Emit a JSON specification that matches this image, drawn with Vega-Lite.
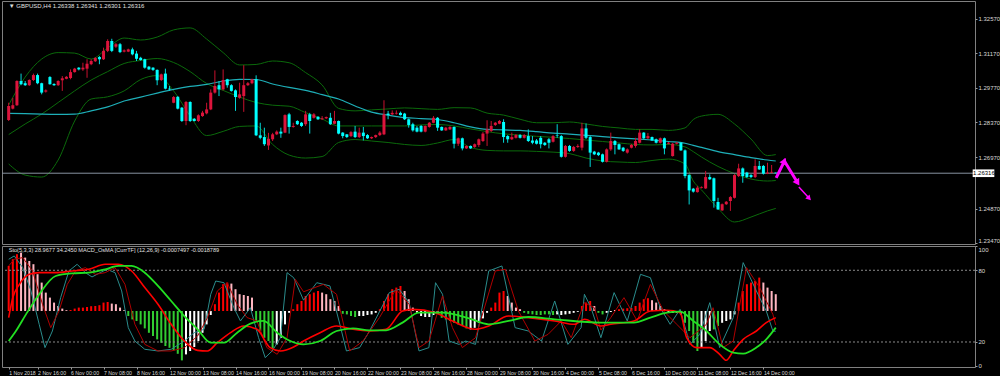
{
"$schema": "https://vega.github.io/schema/vega-lite/v6.json",
"background": "#000000",
"padding": {"left": 1, "top": 0, "right": 0, "bottom": 0},
"spacing": 2,
"bounds": "flush",
"config": {
  "view": {"stroke": "#808080", "strokeWidth": 1, "fill": "#000000"},
  "font": "Liberation Sans",
  "axis": {"grid": false, "domain": false, "labelFont": "Liberation Sans", "labelFontSize": 6, "labelColor": "#D8D8D8", "tickColor": "#9a9a9a", "tickSize": 2, "labelPadding": 1}
},
"datasets": {
"candles": [
{"j":0,"o":1.2847,"h":1.2917,"l":1.2843,"c":1.2904},
{"j":1,"o":1.2893,"h":1.2937,"l":1.2890,"c":1.2907},
{"j":2,"o":1.2907,"h":1.3008,"l":1.2904,"c":1.3005},
{"j":3,"o":1.3005,"h":1.3035,"l":1.2988,"c":1.2992},
{"j":4,"o":1.2996,"h":1.3005,"l":1.2985,"c":1.2988},
{"j":5,"o":1.2988,"h":1.3012,"l":1.2985,"c":1.3009},
{"j":6,"o":1.3009,"h":1.3035,"l":1.3005,"c":1.3029},
{"j":7,"o":1.3029,"h":1.3035,"l":1.2992,"c":1.2996},
{"j":8,"o":1.2996,"h":1.2998,"l":1.2951,"c":1.2958},
{"j":9,"o":1.2962,"h":1.2971,"l":1.2958,"c":1.2967},
{"j":10,"o":1.3021,"h":1.3025,"l":1.2990,"c":1.2992},
{"j":11,"o":1.2993,"h":1.2996,"l":1.2985,"c":1.2988},
{"j":12,"o":1.2988,"h":1.3008,"l":1.2985,"c":1.3005},
{"j":13,"o":1.3008,"h":1.3025,"l":1.2965,"c":1.3016},
{"j":14,"o":1.3014,"h":1.3025,"l":1.3012,"c":1.3022},
{"j":15,"o":1.3017,"h":1.3052,"l":1.3012,"c":1.3041},
{"j":16,"o":1.3041,"h":1.3058,"l":1.3039,"c":1.3055},
{"j":17,"o":1.3059,"h":1.3061,"l":1.3048,"c":1.3052},
{"j":18,"o":1.3052,"h":1.3079,"l":1.3046,"c":1.3059},
{"j":19,"o":1.3055,"h":1.3093,"l":1.3018,"c":1.3075},
{"j":20,"o":1.3073,"h":1.3093,"l":1.3069,"c":1.3086},
{"j":21,"o":1.3085,"h":1.3102,"l":1.3082,"c":1.3098},
{"j":22,"o":1.3102,"h":1.3106,"l":1.3073,"c":1.3093},
{"j":23,"o":1.3093,"h":1.3140,"l":1.3090,"c":1.3127},
{"j":24,"o":1.3127,"h":1.3174,"l":1.3122,"c":1.3167},
{"j":25,"o":1.3167,"h":1.3176,"l":1.3122,"c":1.3127},
{"j":26,"o":1.3144,"h":1.3159,"l":1.3139,"c":1.3154},
{"j":27,"o":1.3154,"h":1.3159,"l":1.3118,"c":1.3122},
{"j":28,"o":1.3124,"h":1.3133,"l":1.3121,"c":1.3129},
{"j":29,"o":1.3124,"h":1.3136,"l":1.3122,"c":1.3133},
{"j":30,"o":1.3133,"h":1.3140,"l":1.3109,"c":1.3113},
{"j":31,"o":1.3116,"h":1.3127,"l":1.3086,"c":1.3095},
{"j":32,"o":1.3099,"h":1.3103,"l":1.3087,"c":1.3090},
{"j":33,"o":1.3093,"h":1.3095,"l":1.3055,"c":1.3059},
{"j":34,"o":1.3063,"h":1.3066,"l":1.3050,"c":1.3052},
{"j":35,"o":1.3059,"h":1.3061,"l":1.3046,"c":1.3050},
{"j":36,"o":1.3050,"h":1.3052,"l":1.2988,"c":1.3008},
{"j":37,"o":1.3009,"h":1.3035,"l":1.3005,"c":1.3032},
{"j":38,"o":1.3035,"h":1.3055,"l":1.2971,"c":1.2974},
{"j":39,"o":1.2974,"h":1.2985,"l":1.2965,"c":1.2971},
{"j":40,"o":1.2917,"h":1.2944,"l":1.2915,"c":1.2940},
{"j":41,"o":1.2941,"h":1.2944,"l":1.2890,"c":1.2893},
{"j":42,"o":1.2897,"h":1.2900,"l":1.2839,"c":1.2843},
{"j":43,"o":1.2843,"h":1.2924,"l":1.2826,"c":1.2920},
{"j":44,"o":1.2920,"h":1.2923,"l":1.2839,"c":1.2843},
{"j":45,"o":1.2852,"h":1.2855,"l":1.2841,"c":1.2843},
{"j":46,"o":1.2843,"h":1.2870,"l":1.2839,"c":1.2866},
{"j":47,"o":1.2863,"h":1.2884,"l":1.2860,"c":1.2877},
{"j":48,"o":1.2874,"h":1.2917,"l":1.2870,"c":1.2890},
{"j":49,"o":1.2890,"h":1.2971,"l":1.2887,"c":1.2958},
{"j":50,"o":1.2958,"h":1.3048,"l":1.2954,"c":1.2985},
{"j":51,"o":1.2988,"h":1.3005,"l":1.2944,"c":1.2971},
{"j":52,"o":1.2971,"h":1.3052,"l":1.2967,"c":1.3009},
{"j":53,"o":1.3012,"h":1.3014,"l":1.2978,"c":1.2988},
{"j":54,"o":1.2988,"h":1.2992,"l":1.2962,"c":1.2965},
{"j":55,"o":1.2967,"h":1.2971,"l":1.2884,"c":1.2940},
{"j":56,"o":1.2937,"h":1.2998,"l":1.2933,"c":1.2951},
{"j":57,"o":1.2944,"h":1.3069,"l":1.2880,"c":1.2988},
{"j":58,"o":1.2988,"h":1.3001,"l":1.2985,"c":1.2996},
{"j":59,"o":1.2996,"h":1.3014,"l":1.2992,"c":1.3012},
{"j":60,"o":1.3012,"h":1.3028,"l":1.2782,"c":1.2785},
{"j":61,"o":1.2785,"h":1.2836,"l":1.2769,"c":1.2775},
{"j":62,"o":1.2778,"h":1.2816,"l":1.2742,"c":1.2749},
{"j":63,"o":1.2744,"h":1.2795,"l":1.2726,"c":1.2771},
{"j":64,"o":1.2769,"h":1.2795,"l":1.2762,"c":1.2789},
{"j":65,"o":1.2789,"h":1.2805,"l":1.2786,"c":1.2800},
{"j":66,"o":1.2800,"h":1.2816,"l":1.2775,"c":1.2792},
{"j":67,"o":1.2796,"h":1.2870,"l":1.2794,"c":1.2867},
{"j":68,"o":1.2870,"h":1.2876,"l":1.2792,"c":1.2819},
{"j":69,"o":1.2819,"h":1.2836,"l":1.2816,"c":1.2823},
{"j":70,"o":1.2843,"h":1.2846,"l":1.2827,"c":1.2830},
{"j":71,"o":1.2836,"h":1.2839,"l":1.2819,"c":1.2823},
{"j":72,"o":1.2830,"h":1.2884,"l":1.2823,"c":1.2870},
{"j":73,"o":1.2870,"h":1.2876,"l":1.2792,"c":1.2843},
{"j":74,"o":1.2856,"h":1.2875,"l":1.2853,"c":1.2870},
{"j":75,"o":1.2860,"h":1.2863,"l":1.2847,"c":1.2850},
{"j":76,"o":1.2850,"h":1.2863,"l":1.2847,"c":1.2854},
{"j":77,"o":1.2854,"h":1.2861,"l":1.2851,"c":1.2859},
{"j":78,"o":1.2856,"h":1.2876,"l":1.2827,"c":1.2830},
{"j":79,"o":1.2832,"h":1.2884,"l":1.2830,"c":1.2843},
{"j":80,"o":1.2843,"h":1.2845,"l":1.2789,"c":1.2792},
{"j":81,"o":1.2796,"h":1.2798,"l":1.2773,"c":1.2782},
{"j":82,"o":1.2789,"h":1.2790,"l":1.2774,"c":1.2778},
{"j":83,"o":1.2782,"h":1.2802,"l":1.2778,"c":1.2798},
{"j":84,"o":1.2800,"h":1.2823,"l":1.2774,"c":1.2778},
{"j":85,"o":1.2778,"h":1.2816,"l":1.2774,"c":1.2796},
{"j":86,"o":1.2796,"h":1.2819,"l":1.2764,"c":1.2782},
{"j":87,"o":1.2786,"h":1.2790,"l":1.2770,"c":1.2773},
{"j":88,"o":1.2773,"h":1.2780,"l":1.2770,"c":1.2778},
{"j":89,"o":1.2778,"h":1.2788,"l":1.2774,"c":1.2786},
{"j":90,"o":1.2786,"h":1.2802,"l":1.2782,"c":1.2796},
{"j":91,"o":1.2789,"h":1.2927,"l":1.2786,"c":1.2870},
{"j":92,"o":1.2873,"h":1.2884,"l":1.2850,"c":1.2867},
{"j":93,"o":1.2870,"h":1.2886,"l":1.2867,"c":1.2876},
{"j":94,"o":1.2873,"h":1.2886,"l":1.2869,"c":1.2876},
{"j":95,"o":1.2876,"h":1.2881,"l":1.2865,"c":1.2867},
{"j":96,"o":1.2873,"h":1.2876,"l":1.2847,"c":1.2850},
{"j":97,"o":1.2850,"h":1.2853,"l":1.2816,"c":1.2827},
{"j":98,"o":1.2830,"h":1.2836,"l":1.2800,"c":1.2805},
{"j":99,"o":1.2816,"h":1.2823,"l":1.2797,"c":1.2800},
{"j":100,"o":1.2823,"h":1.2827,"l":1.2797,"c":1.2800},
{"j":101,"o":1.2800,"h":1.2825,"l":1.2797,"c":1.2823},
{"j":102,"o":1.2819,"h":1.2839,"l":1.2816,"c":1.2836},
{"j":103,"o":1.2836,"h":1.2863,"l":1.2834,"c":1.2856},
{"j":104,"o":1.2856,"h":1.2859,"l":1.2803,"c":1.2816},
{"j":105,"o":1.2819,"h":1.2821,"l":1.2803,"c":1.2805},
{"j":106,"o":1.2805,"h":1.2819,"l":1.2803,"c":1.2816},
{"j":107,"o":1.2809,"h":1.2822,"l":1.2807,"c":1.2819},
{"j":108,"o":1.2819,"h":1.2821,"l":1.2732,"c":1.2751},
{"j":109,"o":1.2751,"h":1.2776,"l":1.2742,"c":1.2773},
{"j":110,"o":1.2773,"h":1.2776,"l":1.2724,"c":1.2732},
{"j":111,"o":1.2732,"h":1.2744,"l":1.2730,"c":1.2742},
{"j":112,"o":1.2742,"h":1.2744,"l":1.2730,"c":1.2732},
{"j":113,"o":1.2738,"h":1.2752,"l":1.2734,"c":1.2749},
{"j":114,"o":1.2746,"h":1.2772,"l":1.2738,"c":1.2769},
{"j":115,"o":1.2762,"h":1.2798,"l":1.2758,"c":1.2792},
{"j":116,"o":1.2792,"h":1.2846,"l":1.2742,"c":1.2809},
{"j":117,"o":1.2803,"h":1.2843,"l":1.2798,"c":1.2823},
{"j":118,"o":1.2827,"h":1.2839,"l":1.2823,"c":1.2836},
{"j":119,"o":1.2832,"h":1.2847,"l":1.2830,"c":1.2843},
{"j":120,"o":1.2839,"h":1.2850,"l":1.2755,"c":1.2778},
{"j":121,"o":1.2782,"h":1.2786,"l":1.2755,"c":1.2769},
{"j":122,"o":1.2769,"h":1.2796,"l":1.2766,"c":1.2778},
{"j":123,"o":1.2775,"h":1.2790,"l":1.2772,"c":1.2786},
{"j":124,"o":1.2786,"h":1.2790,"l":1.2772,"c":1.2775},
{"j":125,"o":1.2775,"h":1.2790,"l":1.2772,"c":1.2786},
{"j":126,"o":1.2782,"h":1.2809,"l":1.2758,"c":1.2762},
{"j":127,"o":1.2764,"h":1.2782,"l":1.2749,"c":1.2755},
{"j":128,"o":1.2764,"h":1.2770,"l":1.2748,"c":1.2751},
{"j":129,"o":1.2775,"h":1.2782,"l":1.2732,"c":1.2749},
{"j":130,"o":1.2755,"h":1.2758,"l":1.2742,"c":1.2746},
{"j":131,"o":1.2769,"h":1.2774,"l":1.2732,"c":1.2755},
{"j":132,"o":1.2759,"h":1.2786,"l":1.2756,"c":1.2782},
{"j":133,"o":1.2786,"h":1.2830,"l":1.2775,"c":1.2784},
{"j":134,"o":1.2782,"h":1.2786,"l":1.2695,"c":1.2698},
{"j":135,"o":1.2698,"h":1.2746,"l":1.2695,"c":1.2742},
{"j":136,"o":1.2742,"h":1.2746,"l":1.2718,"c":1.2722},
{"j":137,"o":1.2722,"h":1.2742,"l":1.2718,"c":1.2738},
{"j":138,"o":1.2738,"h":1.2749,"l":1.2734,"c":1.2742},
{"j":139,"o":1.2735,"h":1.2836,"l":1.2724,"c":1.2813},
{"j":140,"o":1.2813,"h":1.2833,"l":1.2770,"c":1.2775},
{"j":141,"o":1.2778,"h":1.2782,"l":1.2657,"c":1.2715},
{"j":142,"o":1.2719,"h":1.2722,"l":1.2705,"c":1.2708},
{"j":143,"o":1.2715,"h":1.2718,"l":1.2701,"c":1.2705},
{"j":144,"o":1.2708,"h":1.2711,"l":1.2675,"c":1.2678},
{"j":145,"o":1.2678,"h":1.2732,"l":1.2675,"c":1.2728},
{"j":146,"o":1.2728,"h":1.2796,"l":1.2722,"c":1.2762},
{"j":147,"o":1.2762,"h":1.2766,"l":1.2708,"c":1.2746},
{"j":148,"o":1.2749,"h":1.2752,"l":1.2726,"c":1.2728},
{"j":149,"o":1.2735,"h":1.2738,"l":1.2718,"c":1.2722},
{"j":150,"o":1.2715,"h":1.2732,"l":1.2711,"c":1.2728},
{"j":151,"o":1.2735,"h":1.2750,"l":1.2732,"c":1.2746},
{"j":152,"o":1.2742,"h":1.2775,"l":1.2735,"c":1.2762},
{"j":153,"o":1.2755,"h":1.2809,"l":1.2752,"c":1.2796},
{"j":154,"o":1.2796,"h":1.2798,"l":1.2770,"c":1.2773},
{"j":155,"o":1.2773,"h":1.2794,"l":1.2770,"c":1.2782},
{"j":156,"o":1.2778,"h":1.2780,"l":1.2762,"c":1.2764},
{"j":157,"o":1.2769,"h":1.2772,"l":1.2752,"c":1.2755},
{"j":158,"o":1.2755,"h":1.2776,"l":1.2752,"c":1.2773},
{"j":159,"o":1.2773,"h":1.2776,"l":1.2708,"c":1.2732},
{"j":160,"o":1.2751,"h":1.2758,"l":1.2748,"c":1.2755},
{"j":161,"o":1.2701,"h":1.2754,"l":1.2699,"c":1.2751},
{"j":162,"o":1.2751,"h":1.2758,"l":1.2748,"c":1.2755},
{"j":163,"o":1.2755,"h":1.2758,"l":1.2722,"c":1.2724},
{"j":164,"o":1.2724,"h":1.2728,"l":1.2611,"c":1.2620},
{"j":165,"o":1.2624,"h":1.2628,"l":1.2505,"c":1.2562},
{"j":166,"o":1.2569,"h":1.2572,"l":1.2553,"c":1.2557},
{"j":167,"o":1.2555,"h":1.2580,"l":1.2553,"c":1.2573},
{"j":168,"o":1.2573,"h":1.2578,"l":1.2570,"c":1.2576},
{"j":169,"o":1.2570,"h":1.2641,"l":1.2568,"c":1.2616},
{"j":170,"o":1.2616,"h":1.2627,"l":1.2604,"c":1.2607},
{"j":171,"o":1.2611,"h":1.2614,"l":1.2492,"c":1.2519},
{"j":172,"o":1.2515,"h":1.2532,"l":1.2483,"c":1.2485},
{"j":173,"o":1.2481,"h":1.2509,"l":1.2479,"c":1.2506},
{"j":174,"o":1.2506,"h":1.2519,"l":1.2503,"c":1.2516},
{"j":175,"o":1.2519,"h":1.2539,"l":1.2479,"c":1.2535},
{"j":176,"o":1.2532,"h":1.2628,"l":1.2529,"c":1.2624},
{"j":177,"o":1.2620,"h":1.2670,"l":1.2616,"c":1.2651},
{"j":178,"o":1.2651,"h":1.2655,"l":1.2593,"c":1.2620},
{"j":179,"o":1.2634,"h":1.2637,"l":1.2612,"c":1.2616},
{"j":180,"o":1.2624,"h":1.2628,"l":1.2612,"c":1.2616},
{"j":181,"o":1.2616,"h":1.2688,"l":1.2612,"c":1.2661},
{"j":182,"o":1.2661,"h":1.2681,"l":1.2645,"c":1.2647},
{"j":183,"o":1.2661,"h":1.2665,"l":1.2626,"c":1.2630},
{"j":184,"o":1.2630,"h":1.2674,"l":1.2628,"c":1.2634},
{"j":185,"o":1.2634,"h":1.2665,"l":1.2632,"c":1.2637},
{"j":186,"o":1.26338,"h":1.26341,"l":1.26301,"c":1.26316}
],
"bands": [
{"j":0,"up":1.2908,"mid":1.2788,"lo":1.2669,"ma":1.2874},
{"j":4,"up":1.3021,"mid":1.2831,"lo":1.2624,"ma":1.2873},
{"j":8,"up":1.3094,"mid":1.2871,"lo":1.2616,"ma":1.2871},
{"j":12,"up":1.3120,"mid":1.2918,"lo":1.2685,"ma":1.2870},
{"j":16,"up":1.3118,"mid":1.2965,"lo":1.2843,"ma":1.2871},
{"j":20,"up":1.3094,"mid":1.3009,"lo":1.2932,"ma":1.2884},
{"j":24,"up":1.3139,"mid":1.3043,"lo":1.2941,"ma":1.2900},
{"j":28,"up":1.3179,"mid":1.3076,"lo":1.2965,"ma":1.2924},
{"j":32,"up":1.3171,"mid":1.3088,"lo":1.3011,"ma":1.2940},
{"j":36,"up":1.3183,"mid":1.3096,"lo":1.3027,"ma":1.2956},
{"j":40,"up":1.3212,"mid":1.3080,"lo":1.2965,"ma":1.2971},
{"j":44,"up":1.3220,"mid":1.3043,"lo":1.2863,"ma":1.2983},
{"j":48,"up":1.3175,"mid":1.2995,"lo":1.2784,"ma":1.2991},
{"j":52,"up":1.3120,"mid":1.2967,"lo":1.2801,"ma":1.3005},
{"j":56,"up":1.3070,"mid":1.2940,"lo":1.2821,"ma":1.3012},
{"j":60,"up":1.3072,"mid":1.2918,"lo":1.2823,"ma":1.3011},
{"j":64,"up":1.3086,"mid":1.2907,"lo":1.2748,"ma":1.2993},
{"j":68,"up":1.3079,"mid":1.2903,"lo":1.2705,"ma":1.2979},
{"j":72,"up":1.3039,"mid":1.2877,"lo":1.2693,"ma":1.2967},
{"j":76,"up":1.2989,"mid":1.2851,"lo":1.2699,"ma":1.2950},
{"j":80,"up":1.2894,"mid":1.2823,"lo":1.2756,"ma":1.2932},
{"j":84,"up":1.2884,"mid":1.2823,"lo":1.2768,"ma":1.2904},
{"j":88,"up":1.2888,"mid":1.2823,"lo":1.2762,"ma":1.2879},
{"j":92,"up":1.2892,"mid":1.2823,"lo":1.2756,"ma":1.2867},
{"j":96,"up":1.2896,"mid":1.2823,"lo":1.2748,"ma":1.2857},
{"j":100,"up":1.2893,"mid":1.2827,"lo":1.2744,"ma":1.2853},
{"j":104,"up":1.2890,"mid":1.2829,"lo":1.2754,"ma":1.2849},
{"j":108,"up":1.2897,"mid":1.2823,"lo":1.2768,"ma":1.2836},
{"j":112,"up":1.2896,"mid":1.2811,"lo":1.2736,"ma":1.2819},
{"j":116,"up":1.2875,"mid":1.2800,"lo":1.2724,"ma":1.2809},
{"j":120,"up":1.2867,"mid":1.2791,"lo":1.2722,"ma":1.2807},
{"j":124,"up":1.2850,"mid":1.2786,"lo":1.2722,"ma":1.2805},
{"j":128,"up":1.2836,"mid":1.2781,"lo":1.2720,"ma":1.2800},
{"j":132,"up":1.2836,"mid":1.2777,"lo":1.2717,"ma":1.2794},
{"j":136,"up":1.2839,"mid":1.2772,"lo":1.2711,"ma":1.2790},
{"j":140,"up":1.2831,"mid":1.2766,"lo":1.2693,"ma":1.2785},
{"j":144,"up":1.2821,"mid":1.2760,"lo":1.2681,"ma":1.2780},
{"j":148,"up":1.2815,"mid":1.2754,"lo":1.2677,"ma":1.2775},
{"j":152,"up":1.2809,"mid":1.2748,"lo":1.2675,"ma":1.2771},
{"j":156,"up":1.2809,"mid":1.2746,"lo":1.2683,"ma":1.2766},
{"j":160,"up":1.2805,"mid":1.2748,"lo":1.2689,"ma":1.2760},
{"j":164,"up":1.2815,"mid":1.2738,"lo":1.2669,"ma":1.2753},
{"j":166,"up":1.2849,"mid":1.2719,"lo":1.2600,"ma":1.2744},
{"j":168,"up":1.2863,"mid":1.2697,"lo":1.2564,"ma":1.2736},
{"j":172,"up":1.2870,"mid":1.2659,"lo":1.2489,"ma":1.2719},
{"j":176,"up":1.2831,"mid":1.2630,"lo":1.2434,"ma":1.2707},
{"j":180,"up":1.2770,"mid":1.2608,"lo":1.2454,"ma":1.2695},
{"j":184,"up":1.2703,"mid":1.2600,"lo":1.2479,"ma":1.2685},
{"j":186,"up":1.2707,"mid":1.2602,"lo":1.2489,"ma":1.2681}
],
"hist": [
{"j":0,"osma":0.00225,"col":"R"},{"j":1,"osma":0.00259,"col":"R"},{"j":2,"osma":0.00284,"col":"R"},{"j":3,"osma":0.00292,"col":"P"},
{"j":4,"osma":0.00267,"col":"P"},{"j":5,"osma":0.0025,"col":"P"},{"j":6,"osma":0.00234,"col":"P"},{"j":7,"osma":0.00184,"col":"P"},
{"j":8,"osma":0.00142,"col":"P"},{"j":9,"osma":0.00092,"col":"P"},{"j":10,"osma":0.00067,"col":"P"},{"j":11,"osma":0.00042,"col":"P"},
{"j":12,"osma":0.00025,"col":"P"},{"j":13,"osma":0.00012,"col":"P"},{"j":14,"osma":0.00004,"col":"P"},{"j":15,"osma":0.00005,"col":"R"},
{"j":16,"osma":0.00012,"col":"R"},{"j":17,"osma":0.00017,"col":"R"},{"j":18,"osma":0.00017,"col":"R"},{"j":19,"osma":0.0002,"col":"R"},
{"j":20,"osma":0.00024,"col":"R"},{"j":21,"osma":0.00025,"col":"R"},{"j":22,"osma":0.00029,"col":"R"},{"j":23,"osma":0.00042,"col":"R"},
{"j":24,"osma":0.00045,"col":"R"},{"j":25,"osma":0.00037,"col":"P"},{"j":26,"osma":0.00034,"col":"P"},{"j":27,"osma":0.00017,"col":"P"},
{"j":28,"osma":0.00004,"col":"P"},{"j":29,"osma":-0.00025,"col":"G"},{"j":30,"osma":-0.00042,"col":"G"},{"j":31,"osma":-0.0005,"col":"G"},
{"j":32,"osma":-0.00067,"col":"G"},{"j":33,"osma":-0.00087,"col":"G"},{"j":34,"osma":-0.00109,"col":"G"},{"j":35,"osma":-0.00125,"col":"G"},
{"j":36,"osma":-0.00142,"col":"G"},{"j":37,"osma":-0.00159,"col":"G"},{"j":38,"osma":-0.00175,"col":"G"},{"j":39,"osma":-0.00184,"col":"G"},
{"j":40,"osma":-0.00197,"col":"G"},{"j":41,"osma":-0.00214,"col":"G"},{"j":42,"osma":-0.00247,"col":"G"},{"j":43,"osma":-0.00217,"col":"W"},
{"j":44,"osma":-0.002,"col":"W"},{"j":45,"osma":-0.0018,"col":"W"},{"j":46,"osma":-0.0015,"col":"W"},{"j":47,"osma":-0.00109,"col":"W"},
{"j":48,"osma":-0.00067,"col":"W"},{"j":49,"osma":-0.0002,"col":"W"},{"j":50,"osma":0.00034,"col":"R"},{"j":51,"osma":0.00092,"col":"R"},
{"j":52,"osma":0.00134,"col":"R"},{"j":53,"osma":0.00142,"col":"R"},{"j":54,"osma":0.00137,"col":"P"},{"j":55,"osma":0.00109,"col":"P"},
{"j":56,"osma":0.00084,"col":"P"},{"j":57,"osma":0.0008,"col":"P"},{"j":58,"osma":0.00075,"col":"P"},{"j":59,"osma":0.00067,"col":"P"},
{"j":60,"osma":-0.0005,"col":"G"},{"j":61,"osma":-0.001,"col":"G"},{"j":62,"osma":-0.00134,"col":"G"},{"j":63,"osma":-0.0015,"col":"G"},
{"j":64,"osma":-0.00192,"col":"G"},{"j":65,"osma":-0.00167,"col":"W"},{"j":66,"osma":-0.00134,"col":"W"},{"j":67,"osma":-0.00067,"col":"W"},
{"j":68,"osma":-0.00009,"col":"W"},{"j":69,"osma":0.00009,"col":"R"},{"j":70,"osma":0.00034,"col":"R"},{"j":71,"osma":0.0005,"col":"R"},
{"j":72,"osma":0.00075,"col":"R"},{"j":73,"osma":0.00084,"col":"R"},{"j":74,"osma":0.00092,"col":"R"},{"j":75,"osma":0.001,"col":"R"},
{"j":76,"osma":0.00092,"col":"P"},{"j":77,"osma":0.00084,"col":"P"},{"j":78,"osma":0.00059,"col":"P"},{"j":79,"osma":0.0005,"col":"P"},
{"j":80,"osma":0.00025,"col":"P"},{"j":81,"osma":-0.00014,"col":"G"},{"j":82,"osma":-0.00017,"col":"G"},{"j":83,"osma":-0.00025,"col":"G"},
{"j":84,"osma":-0.0003,"col":"G"},{"j":85,"osma":-0.00025,"col":"W"},{"j":86,"osma":-0.00025,"col":"W"},{"j":87,"osma":-0.0002,"col":"W"},
{"j":88,"osma":-0.00017,"col":"W"},{"j":89,"osma":-0.00009,"col":"W"},{"j":90,"osma":0.00009,"col":"R"},{"j":91,"osma":0.0005,"col":"R"},
{"j":92,"osma":0.00084,"col":"R"},{"j":93,"osma":0.00109,"col":"R"},{"j":94,"osma":0.00117,"col":"R"},{"j":95,"osma":0.00125,"col":"R"},
{"j":96,"osma":0.001,"col":"P"},{"j":97,"osma":0.00059,"col":"P"},{"j":98,"osma":0.00017,"col":"P"},{"j":99,"osma":-0.00009,"col":"W"},
{"j":100,"osma":-0.00025,"col":"W"},{"j":101,"osma":-0.0003,"col":"W"},{"j":102,"osma":-0.0003,"col":"W"},{"j":103,"osma":-0.0002,"col":"W"},
{"j":104,"osma":-0.00014,"col":"W"},{"j":105,"osma":-0.00034,"col":"G"},{"j":106,"osma":-0.00042,"col":"G"},{"j":107,"osma":-0.0005,"col":"G"},
{"j":108,"osma":-0.00059,"col":"G"},{"j":109,"osma":-0.00067,"col":"G"},{"j":110,"osma":-0.00075,"col":"G"},{"j":111,"osma":-0.00087,"col":"G"},
{"j":112,"osma":-0.00092,"col":"W"},{"j":113,"osma":-0.00084,"col":"W"},{"j":114,"osma":-0.00059,"col":"W"},{"j":115,"osma":-0.00037,"col":"W"},
{"j":116,"osma":-0.00009,"col":"W"},{"j":117,"osma":0.00017,"col":"R"},{"j":118,"osma":0.00042,"col":"R"},{"j":119,"osma":0.00092,"col":"R"},
{"j":120,"osma":0.001,"col":"R"},{"j":121,"osma":0.00075,"col":"P"},{"j":122,"osma":0.00042,"col":"P"},{"j":123,"osma":0.00017,"col":"P"},
{"j":124,"osma":0.00009,"col":"P"},{"j":125,"osma":-0.00009,"col":"G"},{"j":126,"osma":-0.00014,"col":"G"},{"j":127,"osma":-0.00017,"col":"G"},
{"j":128,"osma":-0.0002,"col":"G"},{"j":129,"osma":-0.0002,"col":"G"},{"j":130,"osma":-0.00017,"col":"G"},{"j":131,"osma":-0.00017,"col":"G"},
{"j":132,"osma":-0.0002,"col":"G"},{"j":133,"osma":-0.00017,"col":"W"},{"j":134,"osma":-0.0002,"col":"W"},{"j":135,"osma":-0.00017,"col":"W"},
{"j":136,"osma":-0.00014,"col":"W"},{"j":137,"osma":-0.00009,"col":"W"},{"j":138,"osma":-0.00004,"col":"W"},{"j":139,"osma":0.00025,"col":"R"},
{"j":140,"osma":0.00042,"col":"R"},{"j":141,"osma":0.0005,"col":"R"},{"j":142,"osma":0.00025,"col":"P"},{"j":143,"osma":-0.00009,"col":"G"},
{"j":144,"osma":-0.00017,"col":"G"},{"j":145,"osma":-0.00009,"col":"W"},{"j":146,"osma":-0.00005,"col":"W"},{"j":147,"osma":0.00005,"col":"P"},
{"j":148,"osma":0.00009,"col":"R"},{"j":149,"osma":0.00012,"col":"R"},{"j":150,"osma":0.00014,"col":"R"},{"j":151,"osma":0.00015,"col":"R"},
{"j":152,"osma":0.00025,"col":"R"},{"j":153,"osma":0.00042,"col":"R"},{"j":154,"osma":0.00059,"col":"R"},{"j":155,"osma":0.00064,"col":"R"},
{"j":156,"osma":0.00054,"col":"P"},{"j":157,"osma":0.00042,"col":"P"},{"j":158,"osma":0.00025,"col":"P"},{"j":159,"osma":0.00009,"col":"P"},
{"j":160,"osma":-0.00005,"col":"W"},{"j":161,"osma":-0.0001,"col":"W"},{"j":162,"osma":-0.0001,"col":"W"},{"j":163,"osma":-0.00017,"col":"W"},
{"j":164,"osma":-0.00059,"col":"G"},{"j":165,"osma":-0.001,"col":"G"},{"j":166,"osma":-0.00159,"col":"G"},{"j":167,"osma":-0.002,"col":"G"},
{"j":168,"osma":-0.0018,"col":"W"},{"j":169,"osma":-0.0015,"col":"W"},{"j":170,"osma":-0.001,"col":"W"},{"j":171,"osma":-0.00092,"col":"G"},
{"j":172,"osma":-0.00075,"col":"G"},{"j":173,"osma":-0.00059,"col":"W"},{"j":174,"osma":-0.0005,"col":"W"},{"j":175,"osma":-0.00042,"col":"W"},
{"j":176,"osma":-0.00017,"col":"W"},{"j":177,"osma":0.00042,"col":"R"},{"j":178,"osma":0.001,"col":"R"},{"j":179,"osma":0.00134,"col":"R"},
{"j":180,"osma":0.00142,"col":"R"},{"j":181,"osma":0.0015,"col":"R"},{"j":182,"osma":0.00167,"col":"R"},{"j":183,"osma":0.00142,"col":"P"},
{"j":184,"osma":0.00117,"col":"P"},{"j":185,"osma":0.001,"col":"P"},{"j":186,"osma":0.00084,"col":"P"}
],
"stK": [
{"j":0,"v":89.2},{"j":1.35,"v":92},{"j":3.4,"v":82.2},{"j":5.4,"v":62.7},{"j":7.4,"v":34.8},{"j":8.8,"v":15.3},{"j":10.6,"v":29.2},{"j":12.6,"v":57.1},{"j":14.6,"v":79.4},{"j":16.6,"v":85},{"j":18.6,"v":78},{"j":20.2,"v":74.4},{"j":22.2,"v":78},{"j":23.8,"v":80.8},{"j":25.8,"v":78},{"j":27.4,"v":62.7},{"j":29,"v":32},{"j":30.6,"v":20.8},{"j":33,"v":13.9},{"j":36.2,"v":12.5},{"j":39.4,"v":13.9},{"j":42.6,"v":20.8},{"j":45,"v":27.8},{"j":47.4,"v":30.6},{"j":49,"v":59.9},{"j":50.2,"v":71},{"j":52.2,"v":69.6},{"j":54.6,"v":48.7},{"j":56.2,"v":37.6},{"j":58.6,"v":48.7},{"j":60.6,"v":23.6},{"j":62.2,"v":6.9},{"j":63.9,"v":12.5},{"j":65.9,"v":23.6},{"j":67.5,"v":78},{"j":69.1,"v":73.8},{"j":71.5,"v":55},{"j":74.7,"v":69.6},{"j":77.9,"v":66.9},{"j":80.3,"v":34.8},{"j":81.9,"v":12.5},{"j":85.1,"v":15.3},{"j":87.5,"v":29.2},{"j":92.3,"v":61.3},{"j":94.7,"v":64.1},{"j":97.1,"v":52.9},{"j":99.5,"v":12.5},{"j":101.9,"v":15.3},{"j":103.5,"v":69.6},{"j":105.2,"v":59.9},{"j":106.8,"v":20.8},{"j":109.2,"v":18},{"j":110.8,"v":20.8},{"j":113.2,"v":18},{"j":116.4,"v":79.4},{"j":119.6,"v":83.6},{"j":122.8,"v":32},{"j":126,"v":29.2},{"j":129.2,"v":20.8},{"j":132.4,"v":54.3},{"j":135.6,"v":18},{"j":138.8,"v":32},{"j":139.6,"v":59.9},{"j":141.2,"v":48.7},{"j":143.6,"v":23.6},{"j":146.8,"v":61.3},{"j":150,"v":37.6},{"j":153.2,"v":76.6},{"j":155.6,"v":73.8},{"j":158,"v":48.7},{"j":160.4,"v":34.8},{"j":162.8,"v":47.3},{"j":165.2,"v":18},{"j":167.6,"v":26.4},{"j":170,"v":52.9},{"j":172.4,"v":15.3},{"j":175.7,"v":40.4},{"j":178.1,"v":86.4},{"j":181.3,"v":62.7},{"j":183.7,"v":45.9},{"j":185.3,"v":29.2},{"j":186,"v":28.97}
],
"stD": [
{"j":0,"v":83.6},{"j":1.35,"v":89.2},{"j":3.4,"v":90.6},{"j":5.8,"v":79.4},{"j":8.2,"v":51.5},{"j":10.2,"v":32},{"j":12.2,"v":45.9},{"j":14.2,"v":68.2},{"j":16.2,"v":79.4},{"j":18.6,"v":82.2},{"j":21,"v":76.6},{"j":23.4,"v":78},{"j":25.8,"v":82.2},{"j":28.2,"v":68.2},{"j":30.6,"v":34.8},{"j":33,"v":18},{"j":36.2,"v":12.5},{"j":39.4,"v":12.5},{"j":42.6,"v":15.3},{"j":45.8,"v":25},{"j":48.2,"v":40.4},{"j":50.6,"v":62.7},{"j":53,"v":69.6},{"j":55.4,"v":51.5},{"j":57.8,"v":40.4},{"j":60.2,"v":37.6},{"j":62.6,"v":15.3},{"j":65.1,"v":9.7},{"j":67.5,"v":23.6},{"j":69.5,"v":72.4},{"j":71.5,"v":62},{"j":76.3,"v":68.2},{"j":79.5,"v":59.9},{"j":82.7,"v":12.5},{"j":85.9,"v":20.8},{"j":89.9,"v":40.4},{"j":93.9,"v":64.1},{"j":97.1,"v":51.5},{"j":99.5,"v":15.3},{"j":101.9,"v":20.8},{"j":105.2,"v":58.5},{"j":107.6,"v":32},{"j":110,"v":15.3},{"j":113.2,"v":23.6},{"j":118,"v":79.4},{"j":120.4,"v":80.8},{"j":123.6,"v":45.9},{"j":127.6,"v":20.8},{"j":130.8,"v":26.4},{"j":134,"v":37.6},{"j":136.4,"v":23.6},{"j":139.6,"v":52.9},{"j":142,"v":48.7},{"j":143.6,"v":30},{"j":146,"v":40.4},{"j":149.2,"v":57.1},{"j":152.4,"v":37.6},{"j":155.6,"v":68.2},{"j":158.8,"v":45.9},{"j":162,"v":34.8},{"j":165.2,"v":23.6},{"j":169.2,"v":34.8},{"j":170.8,"v":48.7},{"j":173.2,"v":15.3},{"j":175.7,"v":20.8},{"j":178.9,"v":82.2},{"j":182.1,"v":65.5},{"j":185.3,"v":43.1},{"j":186,"v":34.2}
],
"redL": [
{"j":0,"v":40.4},{"j":1,"v":57.1},{"j":2.6,"v":68.2},{"j":5,"v":76.6},{"j":7.4,"v":78},{"j":11.4,"v":78},{"j":15.4,"v":79.4},{"j":19.4,"v":80.8},{"j":23.4,"v":85},{"j":26.6,"v":85},{"j":29.8,"v":79.4},{"j":33,"v":65.5},{"j":36.2,"v":51.5},{"j":39.4,"v":34.8},{"j":42.6,"v":20.8},{"j":45.8,"v":13},{"j":48.2,"v":12.5},{"j":50.6,"v":19.4},{"j":53.8,"v":27.8},{"j":57,"v":33.4},{"j":60.2,"v":30.6},{"j":63.4,"v":15.3},{"j":65.9,"v":12.5},{"j":69.1,"v":15.8},{"j":71.5,"v":20.8},{"j":75.5,"v":27.8},{"j":79.5,"v":33.4},{"j":83.5,"v":30.6},{"j":87.5,"v":29.2},{"j":91.5,"v":30.6},{"j":95.5,"v":45.9},{"j":97.9,"v":47.3},{"j":103.5,"v":44.5},{"j":107.6,"v":37.6},{"j":113.2,"v":30.6},{"j":116.4,"v":33.4},{"j":121.2,"v":41.7},{"j":126,"v":40.4},{"j":132.4,"v":37.6},{"j":137.2,"v":34.8},{"j":139.6,"v":39},{"j":143.6,"v":33.4},{"j":146,"v":34.8},{"j":151.6,"v":37.6},{"j":155.6,"v":45.9},{"j":159.6,"v":46.5},{"j":162.8,"v":44.5},{"j":164.4,"v":23.6},{"j":166.8,"v":15.3},{"j":170,"v":15.3},{"j":172.4,"v":9.7},{"j":174,"v":4.7},{"j":175.7,"v":12.5},{"j":178.1,"v":22.2},{"j":181.3,"v":29.2},{"j":183.7,"v":36.2},{"j":186,"v":40.4}
],
"grnL": [
{"j":0,"v":20.8},{"j":1.75,"v":29.2},{"j":4.2,"v":43.1},{"j":7.4,"v":59.9},{"j":11.4,"v":75.2},{"j":15.4,"v":77.4},{"j":19.4,"v":78},{"j":23.4,"v":80.8},{"j":26.6,"v":83.6},{"j":29.8,"v":83.6},{"j":33,"v":78},{"j":36.2,"v":66.9},{"j":39.4,"v":54.3},{"j":42.6,"v":41.7},{"j":45.8,"v":30.6},{"j":49,"v":19.4},{"j":52.2,"v":19.4},{"j":55.4,"v":27.8},{"j":58.6,"v":35.3},{"j":61.8,"v":37.6},{"j":65.1,"v":27.8},{"j":68.3,"v":20.8},{"j":71.5,"v":18},{"j":75.5,"v":20.8},{"j":79.5,"v":29.2},{"j":83.5,"v":31.4},{"j":87.5,"v":29.8},{"j":91.5,"v":29.8},{"j":95.5,"v":36.2},{"j":99.5,"v":44.5},{"j":105.2,"v":44.5},{"j":111.6,"v":39.8},{"j":116.4,"v":34.8},{"j":121.2,"v":37.6},{"j":126,"v":40.9},{"j":132.4,"v":39},{"j":143.6,"v":36.2},{"j":147.6,"v":36.2},{"j":151.6,"v":36.2},{"j":155.6,"v":40.4},{"j":159.6,"v":44.5},{"j":162.8,"v":45.4},{"j":166,"v":37.6},{"j":169.2,"v":29.2},{"j":172.4,"v":18},{"j":175.7,"v":11.1},{"j":178.1,"v":10.2},{"j":181.3,"v":15.3},{"j":183.7,"v":22.2},{"j":186,"v":32}
],
"arrow1": [{"j":186.1,"p":1.2613},{"j":188.1,"p":1.2681},{"j":191.3,"p":1.2593}],
"arrow2": [{"j":191.6,"p":1.2576},{"j":194.1,"p":1.2530}],
"price": [{"p":1.26316,"label":"1.26316"}],
"levels": [{"v":80},{"v":20}],
"head1": [{"label":"▼ GBPUSD,H4  1.26338 1.26341 1.26301 1.26316"}],
"head2": [{"label":"Sto(5,3,3) 28.9677 34.2450  MACD_OsMA [CurrTF] (12,26,9) -0.0007497 -0.0018789"}]
},
"vconcat": [
{
 "width": 973, "height": 243,
 "layer": [
  {"data": {"name": "bands"}, "mark": {"type": "line", "color": "#0B6A0B", "strokeWidth": 1, "interpolate": "monotone"},
   "encoding": {"x": {"field": "j", "type": "quantitative", "scale": {"domain": [-0.408, 233.1], "nice": false, "zero": false}, "axis": null},
                "y": {"field": "up", "type": "quantitative", "title": null, "scale": {"domain": [1.23449, 1.3329], "nice": false, "zero": false},
                      "axis": {"orient": "right", "values": [1.2347,1.2417,1.2487,1.2557,1.2697,1.2767,1.2837,1.2907,1.2977,1.3047,1.3117,1.3187,1.3257], "format": ".5f", "labelOverlap": false, "title": null,
                               "labelBaseline": {"condition": {"test": "datum.value < 1.235", "value": "bottom"}, "value": "middle"}}}}},
  {"data": {"name": "bands"}, "mark": {"type": "line", "color": "#0B6A0B", "strokeWidth": 1, "interpolate": "monotone"},
   "encoding": {"x": {"field": "j", "type": "quantitative", "scale": {"domain": [-0.408, 233.1], "nice": false, "zero": false}, "axis": null},
                "y": {"field": "mid", "type": "quantitative", "title": null, "scale": {"domain": [1.23449, 1.3329], "nice": false, "zero": false}}}},
  {"data": {"name": "bands"}, "mark": {"type": "line", "color": "#0B6A0B", "strokeWidth": 1, "interpolate": "monotone"},
   "encoding": {"x": {"field": "j", "type": "quantitative", "scale": {"domain": [-0.408, 233.1], "nice": false, "zero": false}, "axis": null},
                "y": {"field": "lo", "type": "quantitative", "title": null, "scale": {"domain": [1.23449, 1.3329], "nice": false, "zero": false}}}},
  {"data": {"name": "bands"}, "mark": {"type": "line", "color": "#1EAFB8", "strokeWidth": 1.2, "interpolate": "monotone"},
   "encoding": {"x": {"field": "j", "type": "quantitative", "scale": {"domain": [-0.408, 233.1], "nice": false, "zero": false}, "axis": null},
                "y": {"field": "ma", "type": "quantitative", "title": null, "scale": {"domain": [1.23449, 1.3329], "nice": false, "zero": false}}}},
  {"data": {"name": "price"}, "mark": {"type": "rule", "color": "#8793A0", "strokeWidth": 1},
   "encoding": {"y": {"field": "p", "type": "quantitative", "title": null, "scale": {"domain": [1.23449, 1.3329], "nice": false, "zero": false}}}},
  {"data": {"name": "candles"}, "mark": {"type": "rule", "strokeWidth": 1},
   "encoding": {"x": {"field": "j", "type": "quantitative", "scale": {"domain": [-0.408, 233.1], "nice": false, "zero": false}, "axis": null},
                "y": {"field": "l", "type": "quantitative", "title": null, "scale": {"domain": [1.23449, 1.3329], "nice": false, "zero": false}},
                "y2": {"field": "h"},
                "color": {"condition": {"test": "datum.c >= datum.o", "value": "#C8102E"}, "value": "#00D8D8"}}},
  {"data": {"name": "candles"}, "mark": {"type": "bar", "size": 3},
   "encoding": {"x": {"field": "j", "type": "quantitative", "scale": {"domain": [-0.408, 233.1], "nice": false, "zero": false}, "axis": null},
                "y": {"field": "o", "type": "quantitative", "title": null, "scale": {"domain": [1.23449, 1.3329], "nice": false, "zero": false}},
                "y2": {"field": "c"},
                "color": {"condition": {"test": "datum.c >= datum.o", "value": "#DC143C"}, "value": "#00FFFF"}}},
  {"data": {"name": "arrow1"}, "mark": {"type": "line", "color": "#FF00FF", "strokeWidth": 3},
   "encoding": {"x": {"field": "j", "type": "quantitative", "scale": {"domain": [-0.408, 233.1], "nice": false, "zero": false}, "axis": null},
                "y": {"field": "p", "type": "quantitative", "title": null, "scale": {"domain": [1.23449, 1.3329], "nice": false, "zero": false}}}},
  {"data": {"name": "arrow2"}, "mark": {"type": "line", "color": "#FF00FF", "strokeWidth": 1.5},
   "encoding": {"x": {"field": "j", "type": "quantitative", "scale": {"domain": [-0.408, 233.1], "nice": false, "zero": false}, "axis": null},
                "y": {"field": "p", "type": "quantitative", "title": null, "scale": {"domain": [1.23449, 1.3329], "nice": false, "zero": false}}}},
  {"data": {"values": [{"j":188.1,"p":1.2681}]}, "mark": {"type": "point", "shape": "triangle-up", "filled": true, "color": "#FF00FF", "size": 60, "angle": 26, "opacity": 1},
   "encoding": {"x": {"field": "j", "type": "quantitative", "scale": {"domain": [-0.408, 233.1], "nice": false, "zero": false}, "axis": null},
                "y": {"field": "p", "type": "quantitative", "title": null, "scale": {"domain": [1.23449, 1.3329], "nice": false, "zero": false}}}},
  {"data": {"values": [{"j":191.3,"p":1.2593}]}, "mark": {"type": "point", "shape": "triangle-up", "filled": true, "color": "#FF00FF", "size": 60, "angle": 148, "opacity": 1},
   "encoding": {"x": {"field": "j", "type": "quantitative", "scale": {"domain": [-0.408, 233.1], "nice": false, "zero": false}, "axis": null},
                "y": {"field": "p", "type": "quantitative", "title": null, "scale": {"domain": [1.23449, 1.3329], "nice": false, "zero": false}}}},
  {"data": {"values": [{"j":194.1,"p":1.2530}]}, "mark": {"type": "point", "shape": "triangle-up", "filled": true, "color": "#FF00FF", "size": 35, "angle": 137, "opacity": 1},
   "encoding": {"x": {"field": "j", "type": "quantitative", "scale": {"domain": [-0.408, 233.1], "nice": false, "zero": false}, "axis": null},
                "y": {"field": "p", "type": "quantitative", "title": null, "scale": {"domain": [1.23449, 1.3329], "nice": false, "zero": false}}}},
  {"data": {"name": "price"}, "mark": {"type": "rect", "color": "#FFFFFF"},
   "encoding": {"x": {"datum": 233.75, "type": "quantitative", "scale": {"domain": [-0.408, 233.1], "nice": false, "zero": false}, "axis": null},
                "x2": {"datum": 239.0},
                "y": {"datum": 1.2647, "type": "quantitative", "title": null, "scale": {"domain": [1.23449, 1.3329], "nice": false, "zero": false}},
                "y2": {"datum": 1.2616}}},
  {"data": {"name": "price"}, "mark": {"type": "text", "color": "#000000", "fontSize": 6, "align": "left", "baseline": "middle", "font": "Liberation Sans"},
   "encoding": {"x": {"datum": 233.85, "type": "quantitative", "scale": {"domain": [-0.408, 233.1], "nice": false, "zero": false}, "axis": null},
                "y": {"field": "p", "type": "quantitative", "title": null, "scale": {"domain": [1.23449, 1.3329], "nice": false, "zero": false}},
                "text": {"field": "label"}}},
  {"data": {"name": "head1"}, "mark": {"type": "text", "color": "#E0E0E0", "fontSize": 6, "align": "left", "baseline": "middle", "font": "Liberation Sans"},
   "encoding": {"x": {"datum": 0.0, "type": "quantitative", "scale": {"domain": [-0.408, 233.1], "nice": false, "zero": false}, "axis": null},
                "y": {"datum": 1.3309, "type": "quantitative", "title": null, "scale": {"domain": [1.23449, 1.3329], "nice": false, "zero": false}},
                "text": {"field": "label"}}}
 ]
},
{
 "width": 973, "height": 121,
 "resolve": {"scale": {"y": "independent"}},
 "layer": [
  {"data": {"name": "hist"}, "mark": {"type": "bar", "size": 2},
   "encoding": {"x": {"field": "j", "type": "quantitative", "scale": {"domain": [-0.408, 233.1], "nice": false, "zero": false},
                      "axis": {"orient": "bottom", "values": [0,7,15,23,31,39,47,55,63,71,79,87,95,103,111,119,127,135,143,151,159,167,175,183],
                               "labelExpr": "datum.value == 0 ? '1 Nov 2018' : ['2 Nov 16:00','6 Nov 00:00','7 Nov 08:00','8 Nov 16:00','12 Nov 00:00','13 Nov 08:00','14 Nov 16:00','16 Nov 00:00','19 Nov 08:00','20 Nov 16:00','22 Nov 00:00','23 Nov 08:00','26 Nov 16:00','28 Nov 00:00','29 Nov 08:00','30 Nov 16:00','4 Dec 00:00','5 Dec 08:00','6 Dec 16:00','10 Dec 00:00','11 Dec 08:00','12 Dec 16:00','14 Dec 00:00'][(datum.value - 7) / 8]",
                               "labelAlign": "left", "labelDx": 1, "labelFontSize": 5.2, "labelFlush": false, "labelOverlap": false, "labelBound": false, "title": null}},
                "y": {"field": "osma", "type": "quantitative", "title": null, "scale": {"domain": [-0.0028, 0.00325], "nice": false, "zero": false}, "axis": null},
                "y2": {"datum": 0},
                "color": {"field": "col", "type": "nominal", "legend": null, "scale": {"domain": ["R","P","G","W"], "range": ["#FF0000","#FFB6C1","#32CD32","#FFFFFF"]}}}},
  {"layer": [
    {"data": {"name": "levels"}, "mark": {"type": "rule", "color": "#8A8A8A", "strokeDash": [2, 2], "strokeWidth": 1},
     "encoding": {"y": {"field": "v", "type": "quantitative", "title": null, "scale": {"domain": [-0.92, 100.3], "nice": false, "zero": false},
                        "axis": {"orient": "right", "values": [0, 20, 80, 100], "format": "d", "labelOverlap": false, "title": null,
                                 "labelBaseline": {"condition": {"test": "datum.value > 99", "value": "top"}, "value": "middle"}}}}},
    {"data": {"name": "stK"}, "mark": {"type": "line", "color": "#2A8C8C", "strokeWidth": 1},
     "encoding": {"x": {"field": "j", "type": "quantitative", "scale": {"domain": [-0.408, 233.1], "nice": false, "zero": false}},
                  "y": {"field": "v", "type": "quantitative", "title": null, "scale": {"domain": [-0.92, 100.3], "nice": false, "zero": false}}}},
    {"data": {"name": "stD"}, "mark": {"type": "line", "color": "#B00000", "strokeWidth": 1},
     "encoding": {"x": {"field": "j", "type": "quantitative", "scale": {"domain": [-0.408, 233.1], "nice": false, "zero": false}},
                  "y": {"field": "v", "type": "quantitative", "title": null, "scale": {"domain": [-0.92, 100.3], "nice": false, "zero": false}}}},
    {"data": {"name": "redL"}, "mark": {"type": "line", "color": "#FF0000", "strokeWidth": 1.6, "interpolate": "monotone"},
     "encoding": {"x": {"field": "j", "type": "quantitative", "scale": {"domain": [-0.408, 233.1], "nice": false, "zero": false}},
                  "y": {"field": "v", "type": "quantitative", "title": null, "scale": {"domain": [-0.92, 100.3], "nice": false, "zero": false}}}},
    {"data": {"name": "grnL"}, "mark": {"type": "line", "color": "#22E022", "strokeWidth": 1.8, "interpolate": "monotone"},
     "encoding": {"x": {"field": "j", "type": "quantitative", "scale": {"domain": [-0.408, 233.1], "nice": false, "zero": false}},
                  "y": {"field": "v", "type": "quantitative", "title": null, "scale": {"domain": [-0.92, 100.3], "nice": false, "zero": false}}}},
    {"data": {"name": "head2"}, "mark": {"type": "text", "color": "#E0E0E0", "fontSize": 5.6, "align": "left", "baseline": "middle", "font": "Liberation Sans"},
     "encoding": {"x": {"datum": 0.0, "type": "quantitative", "scale": {"domain": [-0.408, 233.1], "nice": false, "zero": false}},
                  "y": {"datum": 97.2, "type": "quantitative", "title": null, "scale": {"domain": [-0.92, 100.3], "nice": false, "zero": false}},
                  "text": {"field": "label"}}}
  ]}
 ]
}
]
}
